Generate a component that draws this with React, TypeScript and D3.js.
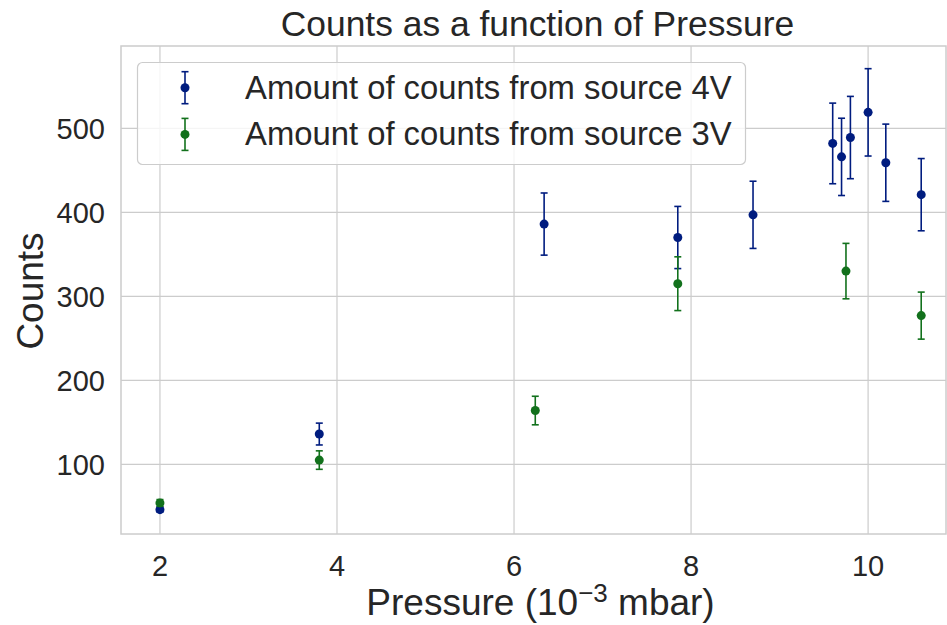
import React from "react";
import * as d3 from "d3";

const blueX = [2, 3.8, 6.34, 7.85, 8.7, 9.6, 9.7, 9.8, 10.0, 10.2, 10.6];
const blueY = [46, 136, 386, 370, 397, 482, 466, 489, 519, 459, 421];
const blueErr = [3, 13, 37, 37, 40, 48, 46, 49, 52, 46, 43];

const greenX = [2, 3.8, 6.24, 7.85, 9.75, 10.6];
const greenY = [54, 105, 164, 315, 330, 277];
const greenErr = [4, 11, 17, 32, 33, 28];

const xTicks = [2, 4, 6, 8, 10];
const yTicks = [100, 200, 300, 400, 500];

const seriesLabels = ["Amount of counts from source 4V", "Amount of counts from source 3V"];
const seriesColors = ["#001c7f", "#12711c"];

const W = 947, H = 625;
const L = 121, R = 946, T = 46, B = 534;
const FONT = "'Liberation Sans', Arial, sans-serif";
const TXT = "#262626";

export default function App() {
  const x = d3.scaleLinear().domain([1.56, 10.88]).range([L, R]);
  const y = d3.scaleLinear().domain([17, 598]).range([B, T]);

  const series = [
    { xs: blueX, ys: blueY, es: blueErr, color: seriesColors[0] },
    { xs: greenX, ys: greenY, es: greenErr, color: seriesColors[1] },
  ];

  return (
    <svg width={W} height={H} style={{ position: "absolute", left: 0, top: 0 }}>
      <rect x={0} y={0} width={W} height={H} fill="white" />
      {/* grid */}
      {xTicks.map((t) => (
        <line key={"gx" + t} x1={x(t)} x2={x(t)} y1={T} y2={B} stroke="#cccccc" strokeWidth={1.2} />
      ))}
      {yTicks.map((t) => (
        <line key={"gy" + t} x1={L} x2={R} y1={y(t)} y2={y(t)} stroke="#cccccc" strokeWidth={1.2} />
      ))}
      <rect x={L} y={T} width={R - L} height={B - T} fill="none" stroke="#cccccc" strokeWidth={1.5} />

      {/* tick labels */}
      {xTicks.map((t) => (
        <text key={"tx" + t} x={x(t)} y={576} textAnchor="middle" fontFamily={FONT} fontSize={29} fill={TXT}>
          {t}
        </text>
      ))}
      {yTicks.map((t) => (
        <text key={"ty" + t} x={105} y={y(t) + 10.5} textAnchor="end" fontFamily={FONT} fontSize={29} fill={TXT}>
          {t}
        </text>
      ))}

      {/* data */}
      {series.map((s, si) => (
        <g key={"s" + si}>
          {s.xs.map((xv, i) => {
            const cx = x(xv);
            const y1 = y(s.ys[i] + s.es[i]);
            const y2 = y(s.ys[i] - s.es[i]);
            return (
              <g key={i}>
                <line x1={cx} x2={cx} y1={y1} y2={y2} stroke={s.color} strokeWidth={1.6} />
                <line x1={cx - 3.5} x2={cx + 3.5} y1={y1} y2={y1} stroke={s.color} strokeWidth={1.6} />
                <line x1={cx - 3.5} x2={cx + 3.5} y1={y2} y2={y2} stroke={s.color} strokeWidth={1.6} />
                <circle cx={cx} cy={y(s.ys[i])} r={4.5} fill={s.color} />
              </g>
            );
          })}
        </g>
      ))}

      {/* legend */}
      <rect x={137.5} y={62.5} width={608} height={102} rx={5} fill="white" fillOpacity={0.8} stroke="#cccccc" strokeWidth={1.2} />
      {seriesLabels.map((lab, i) => {
        const cy = 87.7 + i * 46.7;
        const c = seriesColors[i];
        return (
          <g key={"lg" + i}>
            <line x1={185} x2={185} y1={cy - 16} y2={cy + 16} stroke={c} strokeWidth={1.6} />
            <line x1={181.5} x2={188.5} y1={cy - 16} y2={cy - 16} stroke={c} strokeWidth={1.6} />
            <line x1={181.5} x2={188.5} y1={cy + 16} y2={cy + 16} stroke={c} strokeWidth={1.6} />
            <circle cx={185} cy={cy} r={4.5} fill={c} />
            <text x={245} y={cy + 11} fontFamily={FONT} fontSize={32.8} fill={TXT}>
              {lab}
            </text>
          </g>
        );
      })}

      {/* title */}
      <text x={(L + R) / 2 + 4} y={36} textAnchor="middle" fontFamily={FONT} fontSize={35.4} fill={TXT}>
        Counts as a function of Pressure
      </text>
      {/* x label */}
      <text x={(L + R) / 2 + 7} y={615} textAnchor="middle" fontFamily={FONT} fontSize={37} fill={TXT}>
        Pressure (10
        <tspan dy={-13} fontSize={26}>−3</tspan>
        <tspan dy={13}> mbar)</tspan>
      </text>
      {/* y label */}
      <text transform={`translate(43, ${(T + B) / 2 + 1}) rotate(-90)`} textAnchor="middle" fontFamily={FONT} fontSize={37} fill={TXT}>
        Counts
      </text>
    </svg>
  );
}
